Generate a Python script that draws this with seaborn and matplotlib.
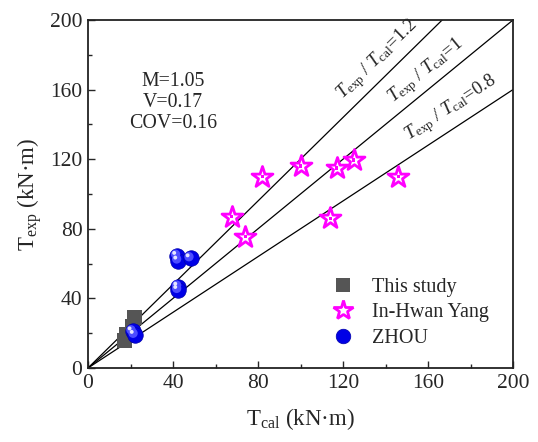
import numpy as np
import pandas as pd
import matplotlib
matplotlib.use("Agg")
import matplotlib.pyplot as plt
import matplotlib.transforms as mtrans
from matplotlib.lines import Line2D
import seaborn as sns

# ---- data ----
this_x = [22, 21, 18, 17]
this_y = [29, 24, 19, 16]
yang_x = [82, 100, 117, 125, 146, 114, 74, 67.6]
yang_y = [110, 116, 115, 119.5, 110, 86, 75.5, 87]
zhou_x = [42, 42.5, 48.3, 42.5, 42.5, 21, 22]
zhou_y = [64.4, 61.7, 63, 46.7, 44.8, 21, 19]
ratios = [1.2, 1.0, 0.8]
ratio_labels = ["1.2", "1", "0.8"]
ratio_label_pos = [(136.5, 177), (159, 170.7), (171, 149)]
stats_text = "M=1.05\nV=0.17\nCOV=0.16"
ticks = [0, 40, 80, 120, 160, 200]

sns.set_style("white")
plt.rcParams['font.family'] = ['Liberation Serif', 'DejaVu Serif']
plt.rcParams['mathtext.fontset'] = 'custom'
plt.rcParams['mathtext.rm'] = 'Liberation Serif'
plt.rcParams['mathtext.it'] = 'Liberation Serif:italic'

fig = plt.figure(figsize=(5.38, 4.42), dpi=100)
ax = fig.add_axes([88/538, 1-368/442, 425/538, 348/442])
ax.set_xlim(0, 200)
ax.set_ylim(0, 200)

xs = np.array([0, 200])
for r in ratios:
    ax.plot(xs, r*xs, color='black', lw=0.9, zorder=1)

df_this = pd.DataFrame({'x': this_x, 'y': this_y})
df_yang = pd.DataFrame({'x': yang_x, 'y': yang_y})
df_zhou = pd.DataFrame({'x': zhou_x, 'y': zhou_y})

sns.scatterplot(data=df_this, x='x', y='y', ax=ax, marker='s', s=120,
                color='#555555', edgecolor='none', zorder=3, legend=False)
sns.scatterplot(data=df_yang, x='x', y='y', ax=ax, marker='*', s=250,
                facecolor='white', edgecolor='#ff00ff', linewidth=2.0, zorder=3, legend=False)
sns.scatterplot(data=df_yang, x='x', y='y', ax=ax, marker='s', s=6,
                color='#ff00ff', edgecolor='none', zorder=4, legend=False)
# spheres
sns.scatterplot(data=df_zhou, x='x', y='y', ax=ax, marker='o', s=125,
                color='#0000e6', edgecolor='#0000aa', linewidth=0.5, zorder=5, legend=False)
off1 = mtrans.offset_copy(ax.transData, fig=fig, x=-1.2, y=1.2, units='points')
ax.scatter(zhou_x, zhou_y, s=45, color='#4d4dff', edgecolor='none', transform=off1, zorder=6)
off2 = mtrans.offset_copy(ax.transData, fig=fig, x=-2.2, y=2.2, units='points')
ax.scatter(zhou_x, zhou_y, s=8, color='#e6e6ff', edgecolor='none', transform=off2, zorder=7)

ax.set_xticks(ticks)
ax.set_yticks(ticks)
ax.set_xticks(np.arange(20, 200, 40), minor=True)
ax.set_yticks(np.arange(20, 200, 40), minor=True)
ax.tick_params(which='major', direction='in', length=5, width=1, labelsize=15.5,
               bottom=True, left=True, top=False, right=False, pad=4)
ax.tick_params(which='minor', direction='in', length=3, width=1,
               bottom=True, left=True, top=False, right=False)
for sp in ax.spines.values():
    sp.set_linewidth(1.3)
    sp.set_color('#222222')

ax.set_xlabel(r'T$_{\mathrm{cal}}$ (kN·m)', fontsize=16.5, labelpad=10)
ax.set_ylabel(r'T$_{\mathrm{exp}}$ (kN·m)', fontsize=16.5, labelpad=4)

fig.canvas.draw()
bb = ax.get_window_extent()
sx = bb.width / 200
sy = bb.height / 200
for r, lab, (tx, ty) in zip(ratios, ratio_labels, ratio_label_pos):
    ang = np.degrees(np.arctan(r * sy / sx))
    ax.text(tx, ty, r'$T_{\mathrm{exp}}$ / $T_{\mathrm{cal}}$=' + lab, fontsize=13.5,
            rotation=ang, rotation_mode='anchor', ha='center', va='center')

ax.text(0.2, 0.85, stats_text, transform=ax.transAxes,
        fontsize=14.3, ha='center', va='top', linespacing=1.15)

handles = [
    Line2D([], [], marker='s', ls='none', color='#555555', markersize=10, markeredgewidth=0),
    Line2D([], [], marker='*', ls='none', markerfacecolor='white', markeredgecolor='#ff00ff',
           markersize=15, markeredgewidth=2),
    Line2D([], [], marker='o', ls='none', color='#0000e6', markeredgecolor='#0000aa',
           markersize=10.5, markeredgewidth=0.5),
]
ax.legend(handles, ['This study', 'In-Hwan Yang', 'ZHOU'], loc='upper left',
          bbox_to_anchor=(0.565, 0.258), frameon=False, fontsize=14.5,
          borderaxespad=0, borderpad=0, handlelength=1.5,
          handletextpad=0.7, labelspacing=0.3)

fig.savefig('out.png', dpi=100)
